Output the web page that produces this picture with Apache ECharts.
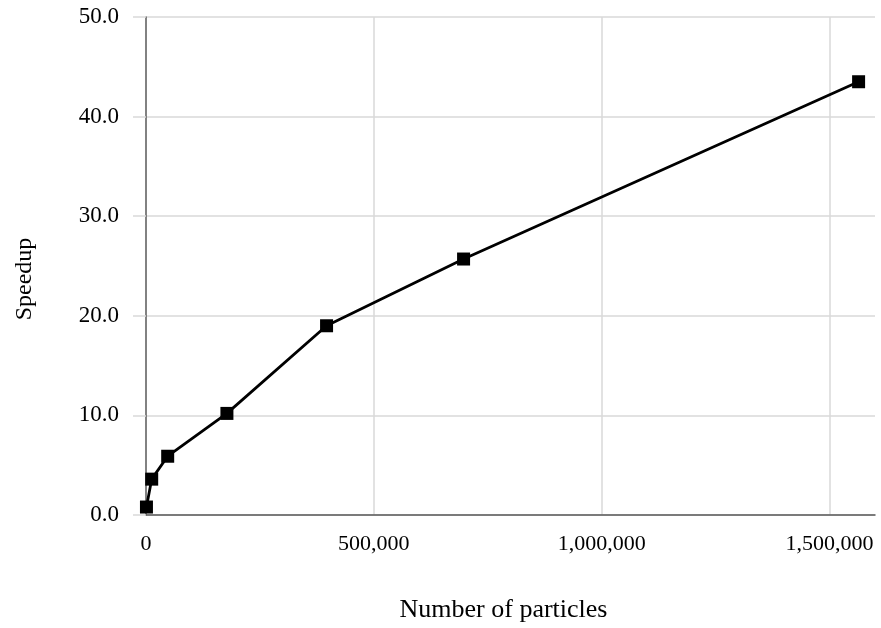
<!DOCTYPE html>
<html>
<head>
<meta charset="utf-8">
<script src="https://cdn.jsdelivr.net/npm/echarts@6/dist/echarts.min.js"></script>
<style>
  html, body { margin: 0; padding: 0; background: #fff; }
  #chart { width: 881px; height: 628px; }
</style>
</head>
<body>
<div id="chart"></div>
<script>
// particle counts and measured speedup
const particles = [1000, 12500, 47600, 177600, 396300, 697000, 1564000];
const speedup = [0.8, 3.6, 5.9, 10.2, 19.0, 25.7, 43.5];

const xTitle = 'Number of particles';
const yTitle = 'Speedup';

const font = '"Liberation Serif", "Times New Roman", serif';

const chart = echarts.init(document.getElementById('chart'));

chart.setOption({
  animation: false,
  grid: { left: 146, right: 6, top: 17, bottom: 113, containLabel: false, outerBoundsMode: 'none' },
  xAxis: {
    type: 'value',
    min: 0,
    max: 1600000,
    interval: 500000,
    name: xTitle,
    nameLocation: 'middle',
    nameGap: 82,
    nameTextStyle: { fontFamily: font, fontSize: 26, color: '#000', padding: [0, 14, 0, 0] },
    axisLine: { show: true, onZero: false, lineStyle: { color: '#595959', width: 1.5 } },
    axisTick: { show: false },
    axisLabel: {
      fontFamily: font, fontSize: 22, color: '#000', margin: 18,
      showMaxLabel: false,
      formatter: v => v.toLocaleString('en-US')
    },
    splitLine: { show: true, showMinLine: false, showMaxLine: false, lineStyle: { color: '#d9d9d9', width: 1.5 } }
  },
  yAxis: {
    type: 'value',
    min: 0,
    max: 50,
    interval: 10,
    name: yTitle,
    nameLocation: 'middle',
    nameGap: 109,
    nameTextStyle: { fontFamily: font, fontSize: 24, color: '#000', padding: [0, 26, 0, 0] },
    axisLine: { show: true, lineStyle: { color: '#595959', width: 1.5 } },
    axisTick: { show: true, length: 13, lineStyle: { color: '#d9d9d9', width: 1.5 } },
    axisLabel: {
      fontFamily: font, fontSize: 23, color: '#000', margin: 27,
      formatter: v => v.toFixed(1)
    },
    splitLine: { show: true, lineStyle: { color: '#d9d9d9', width: 1.5 } }
  },
  series: [{
    type: 'line',
    data: particles.map((p, i) => [p, speedup[i]]),
    symbol: 'rect',
    symbolSize: 13,
    lineStyle: { color: '#000', width: 2.8 },
    itemStyle: { color: '#000' }
  }]
});
</script>
</body>
</html>
